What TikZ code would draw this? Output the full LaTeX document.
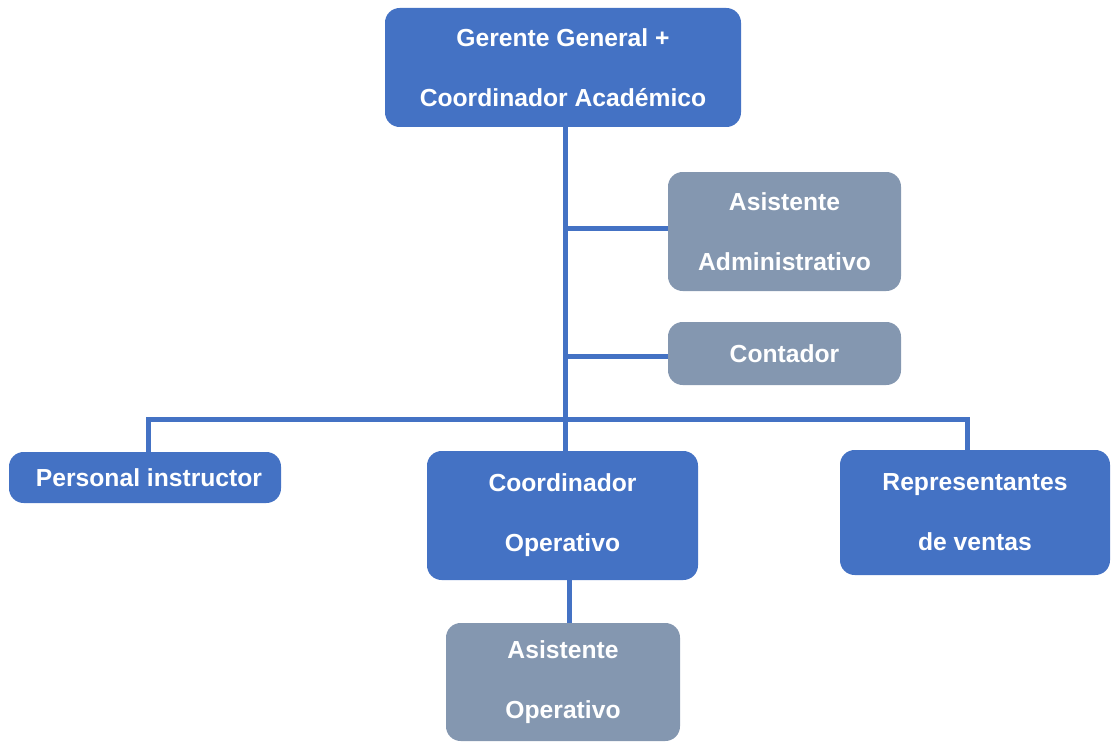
\documentclass[tikz,border=0pt]{standalone}
\usepackage{fontspec}
\setmainfont{Liberation Sans}
\definecolor{orgblue}{HTML}{4472C4}
\definecolor{orggray}{HTML}{8497B0}
\begin{document}
\begin{tikzpicture}[x=0.75pt,y=-0.75pt,
  box/.style={rounded corners=11pt,inner sep=0pt,align=center,text=white,
    font=\fontsize{18.5}{45}\selectfont\bfseries},
  bluebox/.style={box,fill=orgblue},
  graybox/.style={box,fill=orggray},
  link/.style={draw=orgblue,line width=3.75pt}]
\useasboundingbox (0,0) rectangle (1111,742);
\node[bluebox,minimum width=267pt,minimum height=89.25pt] (top) at (563,67.5) {Gerente General +\\Coordinador Académico};
\node[graybox,minimum width=174.75pt,minimum height=89.25pt] (aa) at (784.5,231.5) {Asistente\\Administrativo};
\node[graybox,minimum width=174.75pt,minimum height=47.25pt] (cont) at (784.5,353.5) {Contador};
\node[bluebox,minimum width=204pt,minimum height=38.25pt] (pi) at (145,477.5) {\hspace{6pt}Personal instructor};
\node[bluebox,minimum width=203.25pt,minimum height=96.75pt] (co) at (562.5,515.5) {Coordinador\\Operativo};
\node[bluebox,minimum width=202.5pt,minimum height=93.75pt] (rv) at (975,512.5) {Representantes\\de ventas};
\node[graybox,minimum width=175.5pt,minimum height=88.5pt] (ao) at (563,682) {Asistente\\Operativo};
\coordinate (left) at (148,419);
\coordinate (right) at (967,419);
\coordinate (mid) at (565,420);
\coordinate (aaj) at (565,228);
\coordinate (coj) at (565,356);
\draw[link] (mid |- top.south) -- (mid |- co.north);
\draw[link] (aaj) -- (aaj -| aa.west);
\draw[link] (coj) -- (coj -| cont.west);
\draw[link] (left |- pi.north) -- (left) -- (right) -- (right |- rv.north);
\draw[link] ([xshift=5pt]co.south) -- ([xshift=5pt]co.south |- ao.north);
\end{tikzpicture}
\end{document}
